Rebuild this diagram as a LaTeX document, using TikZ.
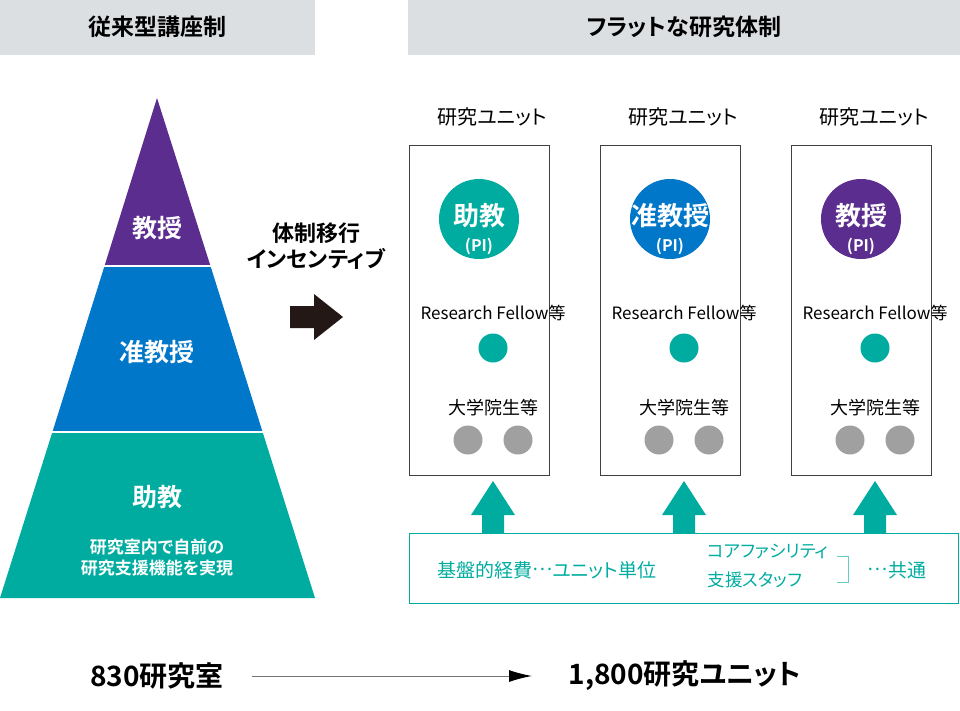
\documentclass[tikz,border=0pt]{standalone}
\usepackage{fontspec}
\setmainfont{Noto Sans CJK JP}[BoldFont={* Bold}, RawFeature=+palt]
\usetikzlibrary{arrows.meta}
\definecolor{hdgray}{HTML}{DCDFE2}
\definecolor{kpurple}{HTML}{5B2D8E}
\definecolor{kblue}{HTML}{0077C8}
\definecolor{kteal}{HTML}{00ACA0}
\definecolor{kdark}{HTML}{231815}
\definecolor{kgray}{HTML}{A0A0A0}
\newcommand{\middots}{\raisebox{.33em}{…}}
\tikzset{
  hdtext/.style={font=\bfseries\fontsize{23}{26}\selectfont},
  unitbox/.style={draw=black!75, line width=0.8pt},
  unitlabel/.style={font=\fontsize{20}{22}\selectfont},
  picircle/.style={circle, minimum size=80pt, inner sep=0pt},
  member/.style={circle, minimum size=29pt, inner sep=0pt},
  uparrow/.style={fill=kteal, draw=none},
  supporttext/.style={text=kteal, font=\fontsize{19}{22}\selectfont},
}
\begin{document}
\begin{tikzpicture}[x=1pt, y=-1pt]
\useasboundingbox (0,0) rectangle (960,710);
% headers
\fill[hdgray] (0,0) rectangle (315,55);
\fill[hdgray] (408,0) rectangle (960,55);
\node[hdtext] (hleft) at (157,27) {従来型講座制};
\node[hdtext] (hright) at (684,27) {フラットな研究体制};
% pyramid
\fill[kteal] (0,598) -- (315,598) -- (262.6,432) -- (52.4,432) -- cycle;
\fill[kblue] (52.4,432) -- (262.6,432) -- (210.5,266) -- (104.5,266) -- cycle;
\fill[kpurple] (104.5,266) -- (210.5,266) -- (157,98) -- cycle;
\draw[white, line width=2pt] (50,432) -- (265,432) (102,266) -- (213,266);
\node[font=\bfseries\fontsize{25}{28}\selectfont, text=white] (prof) at (157,228) {教授};
\node[font=\bfseries\fontsize{25}{28}\selectfont, text=white] (assoc) at (157,352) {准教授};
\node[font=\bfseries\fontsize{25}{28}\selectfont, text=white] (asst) at (157,497) {助教};
\node[font=\bfseries\fontsize{17}{21}\selectfont, text=white, align=center] (asstnote) at (157,558) {研究室内で自前の\\研究支援機能を実現};
% transition
\node[font=\bfseries\fontsize{22}{26}\selectfont, align=center] (shift) at (316,246) {体制移行\\インセンティブ};
\fill[kdark] (290,306) -- (314,306) -- (314,294) -- (343,317) -- (314,340) -- (314,328) -- (290,328) -- cycle;
% units
\foreach \ux/\pilabel/\picol [count=\i] in {409/助教/kteal, 600/准教授/kblue, 791/教授/kpurple} {
  \draw[unitbox] (\ux,145) rectangle ++(140,330);
  \node[unitlabel] (unit\i) at (\ux+83,117) {研究ユニット};
  \node[picircle, fill=\picol] (pi\i) at (\ux+70,219) {};
  \node[font=\bfseries\fontsize{26}{28}\selectfont, text=white] (pitext\i) at (\ux+70,216) {\pilabel};
  \node[font=\bfseries\fontsize{16}{18}\selectfont, text=white] (pisub\i) at (\ux+70,246) {(PI)};
  \node[font=\fontsize{17}{20}\selectfont] (rf\i) at (\ux+84,313) {Research Fellow等};
  \node[member, fill=kteal] (rfm\i) at (\ux+84,348) {};
  \node[font=\fontsize{18}{20}\selectfont] (gs\i) at (\ux+84,408) {大学院生等};
  \node[member, fill=kgray] (gsa\i) at (\ux+59,440) {};
  \node[member, fill=kgray] (gsb\i) at (\ux+109,440) {};
  \fill[uparrow] (\ux+73,533) -- (\ux+73,515) -- (\ux+62,515) -- (\ux+84,481) -- (\ux+106,515) -- (\ux+95,515) -- (\ux+95,533) -- cycle;
}
% common support
\draw[kteal, line width=0.8pt] (409,533) rectangle (958,603);
\node[supporttext] (budget) at (547,570) {基盤的経費\middots ユニット単位};
\node[supporttext, font=\fontsize{17.5}{20}\selectfont, anchor=west] (core) at (704,551) {コアファシリティ};
\node[supporttext, font=\fontsize{17.5}{20}\selectfont, anchor=west] (staff) at (704,580) {支援スタッフ};
\draw[kteal!60, line width=1pt] (837,556) -- (848,556) -- (848,582) -- (837,582);
\node[supporttext] (common) at (897,570) {\middots 共通};
% bottom
\node[font=\bfseries\fontsize{28}{32}\selectfont] (labs) at (157,676) {830研究室};
\node[font=\bfseries\fontsize{28}{32}\selectfont] (units) at (685,676) {1,800研究ユニット};
\draw[black!55, line width=1pt, -{Latex[length=23pt,width=12pt,black]}] (252,676) -- (532,676);
\end{tikzpicture}
\end{document}
